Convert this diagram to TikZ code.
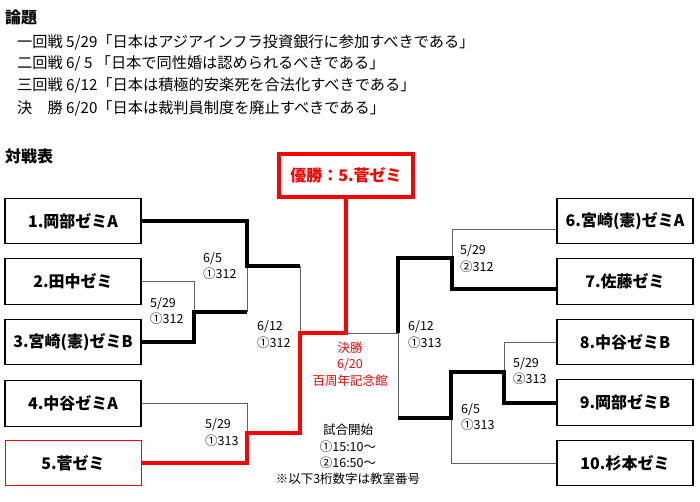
\documentclass[tikz,border=0pt]{standalone}
\usepackage{fontspec}
\setmainfont{Noto Sans CJK JP}
\begin{document}
\begin{tikzpicture}[x=1pt,y=-1pt,
  team/.style={draw=black,line width=1.3pt,minimum width=136pt,minimum height=45.5pt,inner sep=0pt,
    font=\fontsize{16}{16}\selectfont\bfseries},
  winline/.style={line width=4pt,line join=miter,draw=black},
  redline/.style={line width=4pt,line join=miter,draw=red},
  loseline/.style={line width=1pt,draw=black!62},
  hdr/.style={anchor=west,inner sep=0pt,font=\fontsize{16}{16}\selectfont\bfseries},
  topic/.style={anchor=west,inner sep=0pt,font=\fontsize{15.2}{15}\selectfont},
  lbl/.style={anchor=west,inner sep=0pt,align=left,font=\fontsize{12.5}{16.2}\selectfont},
  ctr/.style={inner sep=0pt,align=center,font=\fontsize{12.5}{16.3}\selectfont}]
\fill[white] (0,0) rectangle (700,501);
\useasboundingbox (0,0) rectangle (700,501);

% headings and topics
\node[hdr] (h1) at (5,17) {論題};
\node[topic] (tp1) at (17,42) {一回戦 5/29「日本はアジアインフラ投資銀行に参加すべきである」};
\node[topic] (tp2) at (17,63) {二回戦 6/ 5 「日本で同性婚は認められるべきである」};
\node[topic] (tp3) at (17,85) {三回戦 6/12「日本は積極的安楽死を合法化すべきである」};
\node[topic] (tp4) at (17,108) {決　勝 6/20「日本は裁判員制度を廃止すべきである」};
\node[hdr] (h2) at (5,156) {対戦表};

% teams
\node[team] (t1) at (73,221) {1.岡部ゼミA};
\node[team] (t2) at (73,281.5) {2.田中ゼミ};
\node[team] (t3) at (73,342) {3.宮崎(憲)ゼミB};
\node[team] (t4) at (73,403.5) {4.中谷ゼミA};
\node[team,draw=red,line width=1pt] (t5) at (73,463) {5.菅ゼミ};
\node[team] (t6) at (625,221) {6.宮崎(憲)ゼミA};
\node[team] (t7) at (625,281.5) {7.佐藤ゼミ};
\node[team] (t8) at (625,342) {8.中谷ゼミB};
\node[team] (t9) at (625,402.5) {9.岡部ゼミB};
\node[team] (t10) at (625,463) {10.杉本ゼミ};

% champion
\node[draw=red,line width=4pt,minimum width=134pt,minimum height=43pt,inner sep=0pt,text=red,
  font=\fontsize{16}{16}\selectfont\bfseries] (champ) at (346,175.5) {優勝：5.菅ゼミ};

% junction coordinates
\coordinate (q23) at (194,312);
\coordinate (v23) at (247,312);
\coordinate (q12) at (247,266);
\coordinate (u12) at (300,266);
\coordinate (q45) at (247,433);
\coordinate (u45) at (300,433);
\coordinate (fl) at (300,333);
\coordinate (f) at (346,333);
\coordinate (fr) at (398,333);
\coordinate (r67) at (452,258);
\coordinate (sRt) at (398,258);
\coordinate (r89) at (504,372);
\coordinate (w89) at (451,372);
\coordinate (r910) at (451,418);
\coordinate (sRb) at (398,418);

% left side
\draw[loseline] (t2.east) -| (q23);
\draw[loseline] (v23) -- (q12);
\draw[loseline] (t4.east) -| (q45);
\draw[loseline] (u12) -- (fl);
\draw[winline] (t1.east) -| (q12) -- (u12);
\draw[winline] (t3.east) -| (q23) -- (v23);
\draw[redline] (t5.east) -| (q45) -- (u45) -- (fl) -- (f) -- (champ.south);

% right side
\draw[loseline] (f) -- (fr);
\draw[loseline] ([yshift=-8pt]t6.west) -| (r67);
\draw[loseline] (t8.west) -| (r89);
\draw[loseline] (t10.west) -| (r910);
\draw[loseline] (sRb) -- (fr);
\draw[winline] ([yshift=-7.5pt]t7.west) -| (r67) -- (sRt) -- (fr);
\draw[winline] (t9.west) -| (r89) -- (w89) -- (r910) -- (sRb);

% match labels
\node[lbl] (m1) at (203,266) {6/5\\①312};
\node[lbl] (m2) at (150,311) {5/29\\①312};
\node[lbl] (m3) at (257,334.5) {6/12\\①312};
\node[lbl] (m4) at (205,432.5) {5/29\\①313};
\node[lbl] (m5) at (460,258.5) {5/29\\②312};
\node[lbl] (m6) at (408,334.5) {6/12\\①313};
\node[lbl] (m7) at (513,371) {5/29\\②313};
\node[lbl] (m8) at (461,417) {6/5\\①313};

% center notes
\node[ctr,text=red] (fin) at (350,364) {決勝\\6/20\\百周年記念館};
\node[ctr] (note) at (348,454.5) {試合開始\\①15:10～\\②16:50～\\※以下3桁数字は教室番号};
\end{tikzpicture}
\end{document}
